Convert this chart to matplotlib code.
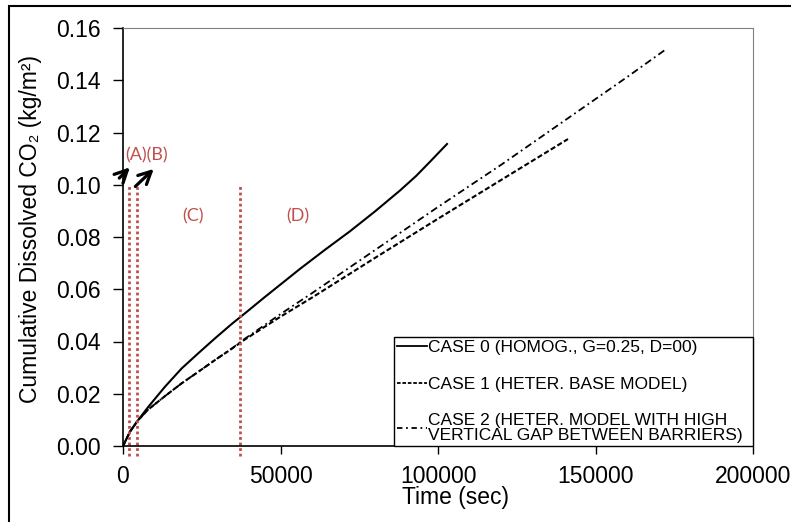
import matplotlib
matplotlib.use('Agg')
import matplotlib.pyplot as plt
from matplotlib.lines import Line2D
from matplotlib.patches import Rectangle
from matplotlib.ticker import FormatStrFormatter

plt.rcParams['font.family'] = ['Liberation Sans', 'DejaVu Sans']

# Case 0: homogeneous model (time in sec, kg/m2)
t_case0 = [0, 2222, 4667, 8040, 13333, 18630, 23900, 29200, 34500, 38730, 45000,
           56190, 64000, 72063, 80000, 87937, 93000, 97460, 102857]
co2_case0 = [0, 0.0055, 0.0097, 0.0150, 0.0227, 0.0297, 0.0355, 0.0412, 0.0467, 0.0508, 0.0570,
             0.0678, 0.0750, 0.0822, 0.0898, 0.0978, 0.1033, 0.1088, 0.1156]

# Case 1: heterogeneous base model
t_case1 = [0, 2222, 4667, 8040, 13333, 18630, 23900, 29200, 34500, 38730, 50000,
           60000, 80000, 100000, 120000, 141270]
co2_case1 = [0, 0.0055, 0.0097, 0.0140, 0.0191, 0.0240, 0.0284, 0.0329, 0.0372, 0.0408, 0.0495,
             0.0568, 0.0720, 0.0870, 0.1018, 0.1175]

# Case 2: heterogeneous model with high vertical gap
t_case2 = [0, 2222, 4667, 8040, 13333, 18630, 23900, 29200, 34500, 38730, 50000,
           60000, 80000, 100000, 120000, 140000, 160000, 172063]
co2_case2 = [0, 0.0055, 0.0097, 0.0140, 0.0191, 0.0240, 0.0284, 0.0329, 0.0373, 0.0411, 0.0505,
             0.0585, 0.0750, 0.0915, 0.1076, 0.1244, 0.1412, 0.1516]

# stage boundaries and labels
stage_t = [2000, 4350, 37143]
stage_top = 0.10
stage_labels = ['(A)(B)', '(C)', '(D)']
stage_label_x = [7600, 22200, 55500]
stage_label_y = [0.1114, 0.0880, 0.0880]

legend_labels = ['CASE 0 (HOMOG., G=0.25, D=00)',
                 'CASE 1 (HETER. BASE MODEL)',
                 'CASE 2 (HETER. MODEL WITH HIGH\nVERTICAL GAP BETWEEN BARRIERS)']

red = '#C0504D'

fig = plt.figure(figsize=(7.91, 5.22), dpi=100)
ax = fig.add_axes([123 / 791, 76 / 522, 630 / 791, 418 / 522])

ax.plot(t_case0, co2_case0, color='black', lw=1.5)
ax.plot(t_case1, co2_case1, color='black', lw=1.5, ls=(0, (2.5, 1.2)))
ax.plot(t_case2, co2_case2, color='black', lw=1.3, ls=(0, (4, 2, 1, 2)))

for t in stage_t:
    ax.plot([t, t], [-0.004, stage_top], color=red, lw=2, ls=(0, (1, 1)), clip_on=False)
for lab, lx, ly in zip(stage_labels, stage_label_x, stage_label_y):
    ax.text(lx, ly, lab, color=red, fontsize=13, ha='center', va='center',
            family=['Lato', 'DejaVu Sans'])

# hand drawn arrows pointing at (A) and (B)
arrow = dict(arrowstyle='->,head_length=0.9,head_width=0.45', color='black', lw=2.3)
ax.annotate('', xy=(2800, 0.1074), xytext=(-1810, 0.1018), arrowprops=arrow,
            annotation_clip=False)
ax.annotate('', xy=(10400, 0.1068), xytext=(3270, 0.0986), arrowprops=arrow,
            annotation_clip=False)

ax.set_xlim(0, 200000)
ax.set_ylim(0, 0.16)
ax.set_xticks([0, 50000, 100000, 150000, 200000])
ax.set_yticks([0, 0.02, 0.04, 0.06, 0.08, 0.10, 0.12, 0.14, 0.16])
ax.yaxis.set_major_formatter(FormatStrFormatter('%.2f'))
ax.tick_params(direction='out', length=6, width=1, labelsize=16.5, color='black')
ax.tick_params(axis='y', pad=9, length=7)
ax.tick_params(axis='x', pad=8)

for s in ['top', 'right']:
    ax.spines[s].set_color('#808080')
for s in ['left', 'bottom']:
    ax.spines[s].set_color('black')
    ax.spines[s].set_linewidth(1.2)

ax.set_xlabel('Time (sec)', fontsize=16.5, va='center')
ax.xaxis.set_label_coords(0.527, -0.1244)
ax.set_ylabel('Cumulative Dissolved CO\u2082 (kg/m\u00b2)', fontsize=16.5, va='center')
ax.yaxis.set_label_coords(-0.1476, 0.519)

handles = [Line2D([], [], color='black', lw=1.3),
           Line2D([], [], color='black', lw=1.3, ls=(0, (2, 1))),
           Line2D([], [], color='black', lw=1.3, ls=(0, (3, 2, 1, 2)))]
leg = ax.legend(handles, legend_labels, loc='lower left',
                bbox_to_anchor=(0.430, 0.0, 0.570, 0.27), mode='expand',
                borderaxespad=0, fontsize=12.5, frameon=True, fancybox=False,
                edgecolor='black', framealpha=1, handlelength=1.75,
                handletextpad=0.05, labelspacing=1.25, borderpad=0.15)
leg.get_frame().set_linewidth(1.0)
leg.get_texts()[2].set_linespacing(1.0)

# outer chart frame (cut off at right and bottom)
fig.patches.append(Rectangle((9 / 791, -0.1), 2, (516 / 522) + 0.1,
                             transform=fig.transFigure, fill=False,
                             edgecolor='black', lw=1.5))

fig.savefig('out.png', dpi=100)
